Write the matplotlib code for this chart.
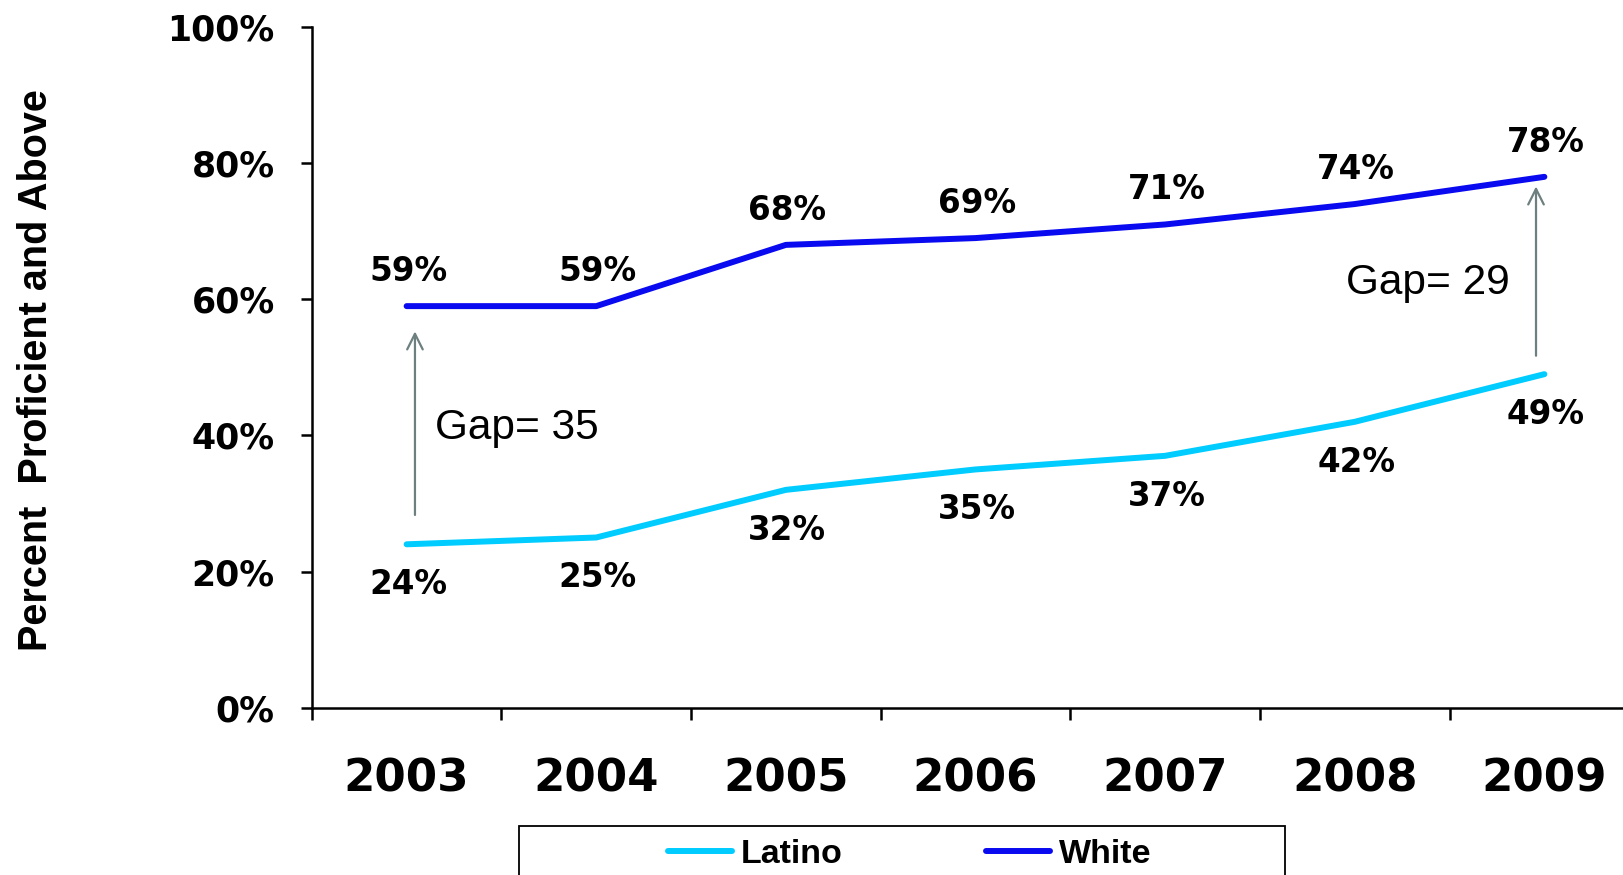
import matplotlib.pyplot as plt
from matplotlib.patches import Rectangle

years = ["2003", "2004", "2005", "2006", "2007", "2008", "2009"]
latino = [24, 25, 32, 35, 37, 42, 49]
white = [59, 59, 68, 69, 71, 74, 78]
yticks = [0, 20, 40, 60, 80, 100]


def main():
    fig = plt.figure(figsize=(16.24, 8.75), dpi=100)
    ax = fig.add_axes([0.192, 0.1913, 0.808, 0.7777])
    x = list(range(len(years)))

    ax.plot(x, latino, color="#00CCFF", lw=4.3, solid_capstyle="round", label="Latino")
    ax.plot(x, white, color="#0A0AF0", lw=4.3, solid_capstyle="round", label="White")

    bold = dict(family="DejaVu Sans", fontweight="bold", fontsize=23.5)
    for i in x:
        ax.annotate(f"{white[i]}%", (i, white[i]), xytext=(1, 25),
                    textcoords="offset points", ha="center", va="center", **bold)
        ax.annotate(f"{latino[i]}%", (i, latino[i]), xytext=(1, -29),
                    textcoords="offset points", ha="center", va="center", **bold)

    # gap arrows
    arrow = dict(arrowstyle="->", color="#6E7F80", lw=1.6, mutation_scale=28)
    ax.annotate("", xy=(0.044, 55.7), xytext=(0.044, 27.9), arrowprops=arrow)
    ax.annotate("", xy=(5.956, 77.0), xytext=(5.956, 51.3), arrowprops=arrow)
    ax.text(0.148, 41.1, f"Gap= {white[0] - latino[0]}", family="Liberation Sans",
            fontsize=30.5, ha="left", va="center")
    ax.text(4.956, 62.4, f"Gap= {white[-1] - latino[-1]}", family="Liberation Sans",
            fontsize=30.5, ha="left", va="center")

    ax.set_xlim(-0.5, 6.42)
    ax.set_ylim(0, 100)
    ax.set_yticks(yticks)
    ax.set_yticklabels([f"{v}%" for v in yticks], family="DejaVu Sans",
                       fontweight="bold", fontsize=25)
    ax.tick_params(axis="y", length=8.2, width=1.8, pad=18.5)

    ax.set_xticks([i - 0.5 for i in x[:-1]] + [5.5])
    ax.set_xticklabels([])
    ax.tick_params(axis="x", which="major", length=8.5, width=1.8)
    ax.set_xticks(x, minor=True)
    ax.set_xticklabels(years, minor=True, family="DejaVu Sans",
                       fontweight="bold", fontsize=32.5)
    ax.tick_params(axis="x", which="minor", length=0, pad=36)

    for s in ["top", "right"]:
        ax.spines[s].set_visible(False)
    for s in ["left", "bottom"]:
        ax.spines[s].set_linewidth(1.8)

    fig.text(0.022, 0.577, "Percent  Proficient and Above", rotation=90,
             family="Liberation Sans", fontweight="bold", fontsize=28.5,
             ha="center", va="center")

    # legend box, cut off by the bottom edge
    fig.patches.append(Rectangle((0.3196, -0.05), 0.4717, 0.106,
                                 transform=fig.transFigure, fill=False,
                                 edgecolor="black", lw=1.3))
    fig.legend(loc="center", bbox_to_anchor=(0.56, 0.023), ncol=2,
               frameon=False, handlelength=1.9, handletextpad=0.25,
               columnspacing=4.2,
               prop=dict(family="Liberation Sans", weight="bold", size=24.5))

    fig.savefig("out.png", dpi=100)


if __name__ == "__main__":
    main()
